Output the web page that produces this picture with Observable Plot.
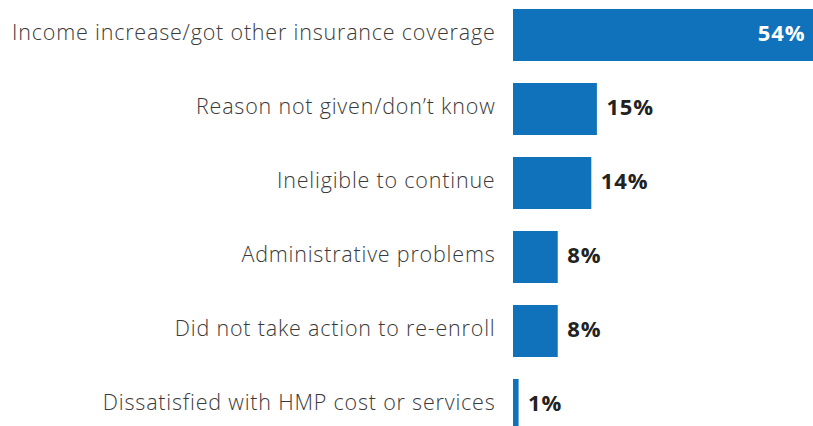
<!DOCTYPE html>
<html>
<head>
<meta charset="utf-8">
<script src="https://cdn.jsdelivr.net/npm/d3@7"></script>
<script src="https://cdn.jsdelivr.net/npm/@observablehq/plot@0.6"></script>
<style>
  html, body { margin: 0; padding: 0; background: #fff; }
  #chart svg { display: block; }
  #chart g[aria-label="y-axis tick label"] text { letter-spacing: 0.8px; }
  #chart g[aria-label="text"] text { letter-spacing: 0.9px; }
</style>
</head>
<body>
<div id="chart"></div>
<script>
const categories = [
  "Income increase/got other insurance coverage",
  "Reason not given/don’t know",
  "Ineligible to continue",
  "Administrative problems",
  "Did not take action to re-enroll",
  "Dissatisfied with HMP cost or services"
];
const values = [54, 15, 14, 8, 8, 1];

const data = categories.map((c, i) => ({category: c, value: values[i]}));
const inside = d => d.value > 40;

const chart = Plot.plot({
  width: 813,
  height: 426,
  marginLeft: 513,
  marginRight: 0,
  marginTop: 0,
  marginBottom: 0,
  style: {fontFamily: "'Open Sans', Lato, sans-serif", background: "#fff"},
  x: {domain: [0, 54], range: [513, 815], axis: null},
  y: {domain: categories, range: [-2, 442], paddingInner: 0.3, paddingOuter: 0.15, label: null},
  marks: [
    Plot.axisY({tickSize: 0, tickPadding: 18, dy: -2, fontSize: 21.5, fontWeight: 300, fill: "#3a3a3a", label: null}),
    Plot.barX(data, {y: "category", x: "value", fill: "#0f72ba"}),
    Plot.text(data.filter(d => !inside(d)), {
      y: "category", x: "value", text: d => d.value + "%",
      textAnchor: "start", dx: 9, dy: -2, fontSize: 22, fontWeight: "bold", fill: "#222"
    }),
    Plot.text(data.filter(inside), {
      y: "category", x: "value", text: d => d.value + "%",
      textAnchor: "end", dx: -10, dy: -2, fontSize: 22, fontWeight: "bold", fill: "#fff"
    })
  ]
});
document.getElementById("chart").append(chart);
</script>
</body>
</html>
